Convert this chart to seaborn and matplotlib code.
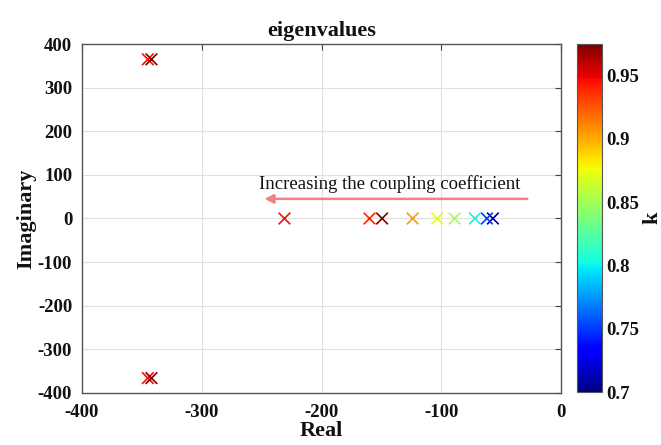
import numpy as np
import pandas as pd
import matplotlib
matplotlib.use("Agg")
import matplotlib.pyplot as plt
import seaborn as sns

# coupling coefficient for each eigenvalue
k_values = [0.705, 0.75, 0.80, 0.85, 0.872, 0.906, 0.94, 0.975, 0.945,
            0.945, 0.975, 0.945, 0.975]
real_part = [-57, -62, -72, -89, -103.5, -124, -160, -149.5, -231,
             -345, -342, -345, -342]
imag_part = [0, 0, 0, 0, 0, 0, 0, 0, 0,
             365, 365, -366, -366]

k_min, k_max = 0.70, 0.975
cbar_ticks = [0.7, 0.75, 0.8, 0.85, 0.9, 0.95]

df = pd.DataFrame({"Real": real_part, "Imaginary": imag_part, "k": k_values})

sns.set_style("white")
plt.rcParams["font.family"] = ["Liberation Serif", "DejaVu Serif"]
plt.rcParams["axes.unicode_minus"] = False
plt.rcParams["text.color"] = "#111111"
plt.rcParams["axes.labelcolor"] = "#111111"
plt.rcParams["xtick.color"] = "#444444"
plt.rcParams["ytick.color"] = "#444444"
plt.rcParams["xtick.labelcolor"] = "#111111"
plt.rcParams["ytick.labelcolor"] = "#111111"

fig = plt.figure(figsize=(6.61, 4.45), dpi=100)
ax = fig.add_axes([0.124, 0.117, 0.725, 0.784])
cax = fig.add_axes([0.873, 0.119, 0.038, 0.782])

jet = matplotlib.colormaps["jet"]
norm = matplotlib.colors.Normalize(vmin=k_min, vmax=k_max)
sns.scatterplot(data=df, x="Real", y="Imaginary", hue="k", hue_norm=norm,
                palette=jet, marker="x", s=70, linewidth=1.2,
                legend=False, ax=ax)

ax.set_xlim(-400, 0)
ax.set_ylim(-400, 400)
ax.set_xticks(np.arange(-400, 1, 100))
ax.set_yticks(np.arange(-400, 401, 100))
ax.grid(True, color="#e0e0e0", linewidth=0.8)
for sp in ax.spines.values():
    sp.set_color("#555555")
    sp.set_linewidth(1.0)
ax.tick_params(axis="both", labelsize=13.5, length=4, direction="in",
               top=True, right=True)
ax.tick_params(axis="x", pad=8)
ax.tick_params(axis="y", pad=7)
for lab in ax.get_xticklabels() + ax.get_yticklabels():
    lab.set_fontweight("bold")
ax.set_xlabel("Real", fontsize=16, fontweight="bold", labelpad=0)
ax.set_ylabel("Imaginary", fontsize=16, fontweight="bold", labelpad=1)
ax.set_title("eigenvalues", fontsize=16, fontweight="bold", pad=6)

ax.annotate("", xy=(-250, 45), xytext=(-26, 45),
            arrowprops=dict(arrowstyle="-|>", color="#f28080", lw=1.8,
                            mutation_scale=13))
ax.text(-143, 79, "Increasing the coupling coefficient", fontsize=13.5,
        ha="center", va="center", color="#111111")

sm = matplotlib.cm.ScalarMappable(norm=norm, cmap=jet)
cb = fig.colorbar(sm, cax=cax, ticks=cbar_ticks)
cb.ax.set_yticklabels([f"{t:g}" for t in cbar_ticks])
cb.outline.set_edgecolor("#555555")
cb.ax.tick_params(labelsize=13.5, length=0, pad=3)
for lab in cb.ax.get_yticklabels():
    lab.set_fontweight("bold")
cb.set_label("k", fontsize=16, fontweight="bold", rotation=90, labelpad=2)

fig.savefig("out.png", dpi=100)
